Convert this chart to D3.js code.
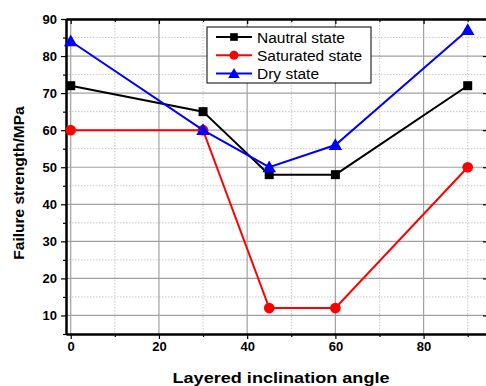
<!DOCTYPE html>
<html>
<head>
<meta charset="utf-8">
<script src="https://cdn.jsdelivr.net/npm/d3@7"></script>
<style>
  html, body { margin: 0; padding: 0; background: #fff; }
  svg { display: block; font-family: Arial, "Liberation Sans", sans-serif; }
</style>
</head>
<body>
<svg id="chart" width="486" height="386"></svg>
<script>
// Layered inclination angle (degrees)
const angles = [0, 30, 45, 60, 90];
// Failure strength (MPa) for each moisture state
const neutral   = [72, 65, 48, 48, 72];
const saturated = [60, 60, 12, 12, 50];
const dry       = [84, 60, 50, 56, 87];

const seriesNames  = ["Nautral state", "Saturated state", "Dry state"];
const seriesColors = ["#000000", "#ff0000", "#0000ff"];
const seriesShapes = ["square", "circle", "triangle"];

const xTicks = [0, 20, 40, 60, 80];
const xMinor = [10, 30, 50, 70, 90];
const yTicks = [10, 20, 30, 40, 50, 60, 70, 80, 90];
const yMinor = [5, 15, 25, 35, 45, 55, 65, 75, 85];

const svg = d3.select("#chart");
const plotL = 66, plotR = 488, plotT = 19, plotB = 334;

const x = d3.scaleLinear().domain([-1.07, 94.6]).range([plotL, plotR]);
const y = d3.scaleLinear().domain([5, 90]).range([plotB, plotT]);

// grid
const grid = svg.append("g");
grid.selectAll(".vmin").data(xMinor).join("line")
  .attr("x1", d => x(d)).attr("x2", d => x(d)).attr("y1", plotT).attr("y2", plotB)
  .attr("stroke", "#c8c8c8").attr("stroke-width", 1).attr("stroke-dasharray", "1.5,1.5");
grid.selectAll(".hmin").data(yMinor.filter(d => d > 5)).join("line")
  .attr("x1", plotL).attr("x2", plotR).attr("y1", d => y(d)).attr("y2", d => y(d))
  .attr("stroke", "#c8c8c8").attr("stroke-width", 1).attr("stroke-dasharray", "1.5,1.5");
grid.selectAll(".vmaj").data(xTicks).join("line")
  .attr("x1", d => x(d)).attr("x2", d => x(d)).attr("y1", plotT).attr("y2", plotB)
  .attr("stroke", "#a0a0a0").attr("stroke-width", 1.2);
grid.selectAll(".hmaj").data(yTicks).join("line")
  .attr("x1", plotL).attr("x2", plotR).attr("y1", d => y(d)).attr("y2", d => y(d))
  .attr("stroke", "#a0a0a0").attr("stroke-width", 1.2);

// axes
const fmt = d3.format("d");
svg.append("g").attr("transform", `translate(0,${plotB})`)
  .call(d3.axisBottom(x).tickValues(xTicks).tickFormat(fmt).tickSize(5).tickSizeOuter(0).tickPadding(3));
svg.append("g").attr("transform", `translate(0,${plotB})`)
  .call(d3.axisBottom(x).tickValues(xMinor).tickFormat("").tickSize(3).tickSizeOuter(0));
svg.append("g").attr("transform", `translate(${plotL},0)`)
  .call(d3.axisLeft(y).tickValues(yTicks).tickFormat(fmt).tickSize(5).tickSizeOuter(0).tickPadding(4));
svg.append("g").attr("transform", `translate(${plotL},0)`)
  .call(d3.axisLeft(y).tickValues(yMinor).tickFormat("").tickSize(3).tickSizeOuter(0));
// top and right frame with inward ticks
svg.append("g").attr("transform", `translate(0,${plotT})`)
  .call(d3.axisTop(x).tickValues(xTicks).tickFormat("").tickSize(-5).tickSizeOuter(0));
svg.append("g").attr("transform", `translate(0,${plotT})`)
  .call(d3.axisTop(x).tickValues(xMinor).tickFormat("").tickSize(-3).tickSizeOuter(0));
svg.append("g").attr("transform", `translate(${plotR},0)`)
  .call(d3.axisRight(y).tickValues(yTicks).tickFormat("").tickSize(-5).tickSizeOuter(0));

svg.selectAll(".domain").attr("stroke", "#000").attr("stroke-width", 2);
svg.selectAll(".tick line").attr("stroke", "#000").attr("stroke-width", 1.2);
svg.selectAll(".tick text").attr("font-size", 13).attr("font-weight", "bold")
  .attr("font-family", "Arial, 'Liberation Sans', sans-serif").attr("fill", "#000");

// series
const data = [neutral, saturated, dry];
const line = d3.line().x((d, i) => x(angles[i])).y(d => y(d));
const symbolTypes = { square: d3.symbolSquare, circle: d3.symbolCircle, triangle: d3.symbolTriangle };
const symbolSizes = { square: 81, circle: 90, triangle: 80 };

function marker(g, shape, color) {
  return g.append("path")
    .attr("d", d3.symbol().type(symbolTypes[shape]).size(symbolSizes[shape])())
    .attr("fill", color);
}

data.forEach((vals, s) => {
  const g = svg.append("g");
  g.append("path").datum(vals).attr("d", line)
    .attr("fill", "none").attr("stroke", seriesColors[s]).attr("stroke-width", 2);
  vals.forEach((v, i) => {
    marker(g, seriesShapes[s], seriesColors[s])
      .attr("transform", `translate(${x(angles[i])},${y(v) + (seriesShapes[s] === "triangle" ? 1 : 0)})`);
  });
});

// legend
const lg = svg.append("g").attr("transform", "translate(207,27)");
lg.append("rect").attr("width", 164).attr("height", 56)
  .attr("fill", "#fff").attr("stroke", "#000").attr("stroke-width", 1);
seriesNames.forEach((name, i) => {
  const yy = 10 + i * 18.3;
  lg.append("line").attr("x1", 9).attr("x2", 45).attr("y1", yy).attr("y2", yy)
    .attr("stroke", seriesColors[i]).attr("stroke-width", 2);
  marker(lg, seriesShapes[i], seriesColors[i])
    .attr("transform", `translate(27,${yy + (seriesShapes[i] === "triangle" ? 1 : 0)}) scale(0.85)`);
  lg.append("text").attr("x", 50).attr("y", yy + 5.5).attr("font-size", 15.5)
    .attr("fill", "#000").text(name);
});

// axis titles
svg.append("text").attr("x", 281).attr("y", 382.5).attr("text-anchor", "middle")
  .attr("font-size", 15).attr("font-weight", "bold")
  .attr("textLength", 217).attr("lengthAdjust", "spacingAndGlyphs")
  .text("Layered inclination angle");
svg.append("text").attr("transform", "translate(24,183) rotate(-90)").attr("text-anchor", "middle")
  .attr("font-size", 15.5).attr("font-weight", "bold").text("Failure strength/MPa");
</script>
</body>
</html>
